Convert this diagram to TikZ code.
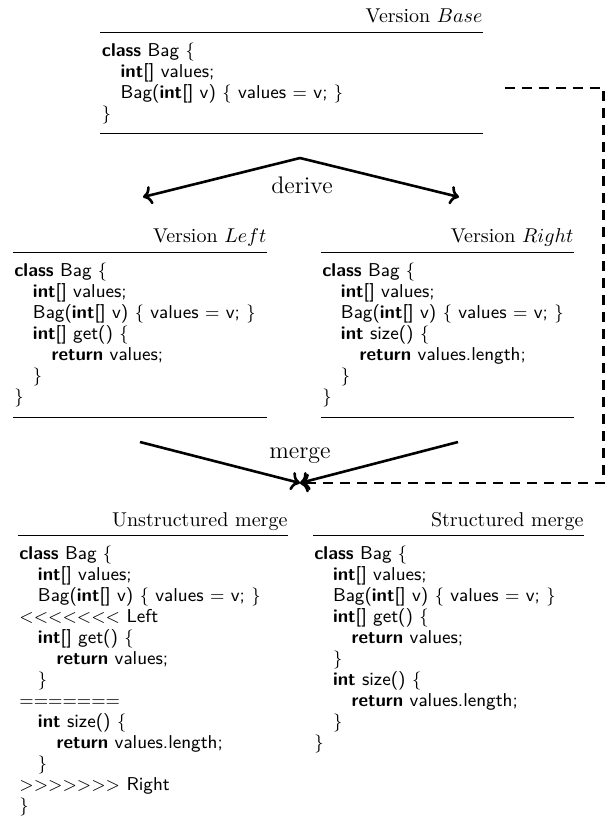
\documentclass[tikz,border=0pt]{standalone}
\usetikzlibrary{arrows.meta}
\newcommand\kw[1]{\textbf{#1}}
\newcommand\LBr{$\{$}
\newcommand\RBr{$\}$}
\tikzset{
  frame/.style={rectangle, inner sep=0pt, anchor=north west, draw=none},
  rulel/.style={line width=0.5pt},
  code/.style={anchor=north west, inner sep=0pt, align=left,
    font=\sffamily\fontsize{9.3}{10.5}\selectfont},
  ttl/.style={anchor=base east, inner sep=0pt, font=\fontsize{10}{12}\selectfont},
  lbl/.style={font=\large, inner sep=1pt},
  flow/.style={line width=1.3pt, ->},
  link/.style={line width=1.3pt, dash pattern=on 5pt off 3.5pt, ->},
}
\begin{document}
\begin{tikzpicture}[x=1pt, y=-1pt]
\useasboundingbox (0,0) rectangle (302.5,413.5);

% ---- frames ----
\node[frame, minimum width=191pt, minimum height=50.5pt] (base) at (50,16) {};
\node[frame, minimum width=126.5pt, minimum height=82.5pt] (left) at (6.5,126) {};
\node[frame, minimum width=126pt, minimum height=82.5pt] (right) at (160.5,126) {};
\node[frame, minimum width=134.5pt, minimum height=140pt] (uns) at (9,267.5) {};
\node[frame, minimum width=135pt, minimum height=140pt] (str) at (156.5,267.5) {};

\foreach \b in {base,left,right}{
  \draw[rulel] (\b.north west) -- (\b.north east);
  \draw[rulel] (\b.south west) -- (\b.south east);
}
\foreach \b in {uns,str}{
  \draw[rulel] (\b.north west) -- (\b.north east);
}

% ---- titles ----
\node[ttl] (tbase) at ([yshift=5pt]base.north east) {Version $Base$};
\node[ttl] (tleft) at ([yshift=5pt]left.north east) {Version $Left$};
\node[ttl] (tright) at ([yshift=5pt]right.north east) {Version $Right$};
\node[ttl] (tuns) at ([yshift=4.5pt]uns.north east) {Unstructured merge};
\node[ttl] (tstr) at ([yshift=4.5pt]str.north east) {Structured merge};

% ---- code ----
\node[code] (cbase) at ([xshift=0.8pt,yshift=-4.6pt]base.north west) {%
\strut\kw{class} Bag \LBr\\
\quad\kw{int}[] values;\\
\quad Bag(\kw{int}[] v) \LBr{} values $=$ v; \RBr\\
\RBr};

\node[code] (cleft) at ([xshift=0.5pt,yshift=-4.6pt]left.north west) {%
\strut\kw{class} Bag \LBr\\
\quad\kw{int}[] values;\\
\quad Bag(\kw{int}[] v) \LBr{} values $=$ v; \RBr\\
\quad\kw{int}[] get() \LBr\\
\quad\quad\kw{return} values;\\
\quad\RBr\\
\RBr};

\node[code] (cright) at ([xshift=0.5pt,yshift=-4.6pt]right.north west) {%
\strut\kw{class} Bag \LBr\\
\quad\kw{int}[] values;\\
\quad Bag(\kw{int}[] v) \LBr{} values $=$ v; \RBr\\
\quad\kw{int} size() \LBr\\
\quad\quad\kw{return} values.length;\\
\quad\RBr\\
\RBr};

\node[code] (cuns) at ([xshift=0.5pt,yshift=-4.6pt]uns.north west) {%
\strut\kw{class} Bag \LBr\\
\quad\kw{int}[] values;\\
\quad Bag(\kw{int}[] v) \LBr{} values $=$ v; \RBr\\
$<<<<<<<$ Left\\
\quad\kw{int}[] get() \LBr\\
\quad\quad\kw{return} values;\\
\quad\RBr\\
$=======$\\
\quad\kw{int} size() \LBr\\
\quad\quad\kw{return} values.length;\\
\quad\RBr\\
$>>>>>>>$ Right\\
\RBr};

\node[code] (cstr) at ([xshift=0.5pt,yshift=-4.6pt]str.north west) {%
\strut\kw{class} Bag \LBr\\
\quad\kw{int}[] values;\\
\quad Bag(\kw{int}[] v) \LBr{} values $=$ v; \RBr\\
\quad\kw{int}[] get() \LBr\\
\quad\quad\kw{return} values;\\
\quad\RBr\\
\quad\kw{int} size() \LBr\\
\quad\quad\kw{return} values.length;\\
\quad\RBr\\
\RBr};

% ---- derive ----
\coordinate (dtop) at (150,79);
\coordinate (dl) at (71.5,98.5);
\coordinate (dr) at (229.5,98.5);
\draw[flow] (dtop) -- (dl);
\draw[flow] (dtop) -- (dr);
\node[lbl] (derive) at (151,92.5) {derive};

% ---- merge ----
\coordinate (ml) at (70,221);
\coordinate (mr) at (229,221);
\coordinate (mtip) at (150,241.5);
\coordinate (corner) at (301.8,241.5);
\coordinate (lk) at ([xshift=11pt,yshift=-2.5pt]base.east);
\draw[flow] (ml) -- (mtip);
\draw[flow] (mr) -- (mtip);
\draw[link] (lk) -| (corner) -- (mtip);
\node[lbl] (merge) at (150,228) {merge};
\end{tikzpicture}
\end{document}
